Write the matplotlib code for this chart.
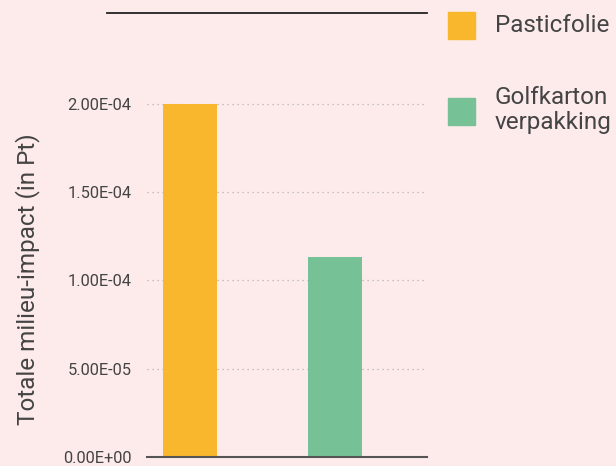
import matplotlib.pyplot as plt
from matplotlib.lines import Line2D
from matplotlib.patches import Rectangle
from matplotlib.ticker import FuncFormatter

categories = ['Pasticfolie', 'Golfkarton\nverpakking']
values = [2.0e-4, 1.13e-4]
colors = ['#F9B72D', '#77C196']
yticks = [0, 5e-5, 1e-4, 1.5e-4, 2e-4]

bg = '#FCEBEA'
txt = '#444444'

plt.rcParams['font.family'] = ['Roboto', 'DejaVu Sans']

fig = plt.figure(figsize=(6.16, 4.66), dpi=100, facecolor=bg)
# assen in pixels: x 147-427, y 13-457
W, H = 616, 466
ax = fig.add_axes([147 / W, (H - 457) / H, 280 / W, 444 / H], facecolor=bg)

x = list(range(len(categories)))
ax.bar(x, values, width=0.37, color=colors, zorder=3)

ax.set_xlim(-0.297, 1.634)
ax.set_ylim(0, 444 / 353.5 * 2e-4)
ax.set_xticks([])
ax.set_yticks(yticks)
ax.yaxis.set_major_formatter(FuncFormatter(lambda v, p: f'{v:.2E}'))
ax.tick_params(axis='y', length=0, pad=11, labelsize=11.8, labelcolor=txt)
ax.grid(axis='y', linestyle=(0, (1, 3)), color='#b5b0b0', linewidth=0.9, zorder=0)

for s in ['top', 'right', 'left']:
    ax.spines[s].set_visible(False)
ax.spines['bottom'].set_color('#555555')
ax.spines['bottom'].set_linewidth(1.5)
ax.spines['bottom'].set_zorder(4)

ax.set_ylabel('Totale milieu-impact (in Pt)', fontsize=17.5, color=txt)
ax.yaxis.set_label_coords(40 / W, (H - 279) / H, transform=fig.transFigure)

# lijn bovenaan
fig.add_artist(Line2D([107 / W, 427 / W], [(H - 13) / H] * 2,
                      color='#222222', linewidth=1.3))

# legenda
legend_y = [25, 111]
for lab, col, yc in zip(categories, colors, legend_y):
    fig.add_artist(Rectangle((448 / W, (H - yc - 13.5) / H), 27 / W, 27 / H,
                             color=col, transform=fig.transFigure))
    if '\n' in lab:
        fig.text(495 / W, (H - 86) / H, lab, fontsize=17.5, color=txt,
                 va='top', ha='left', linespacing=1.1)
    else:
        fig.text(495 / W, (H - yc) / H, lab, fontsize=17.5, color=txt,
                 va='center', ha='left')

fig.savefig('out.png', dpi=100, facecolor=bg)
